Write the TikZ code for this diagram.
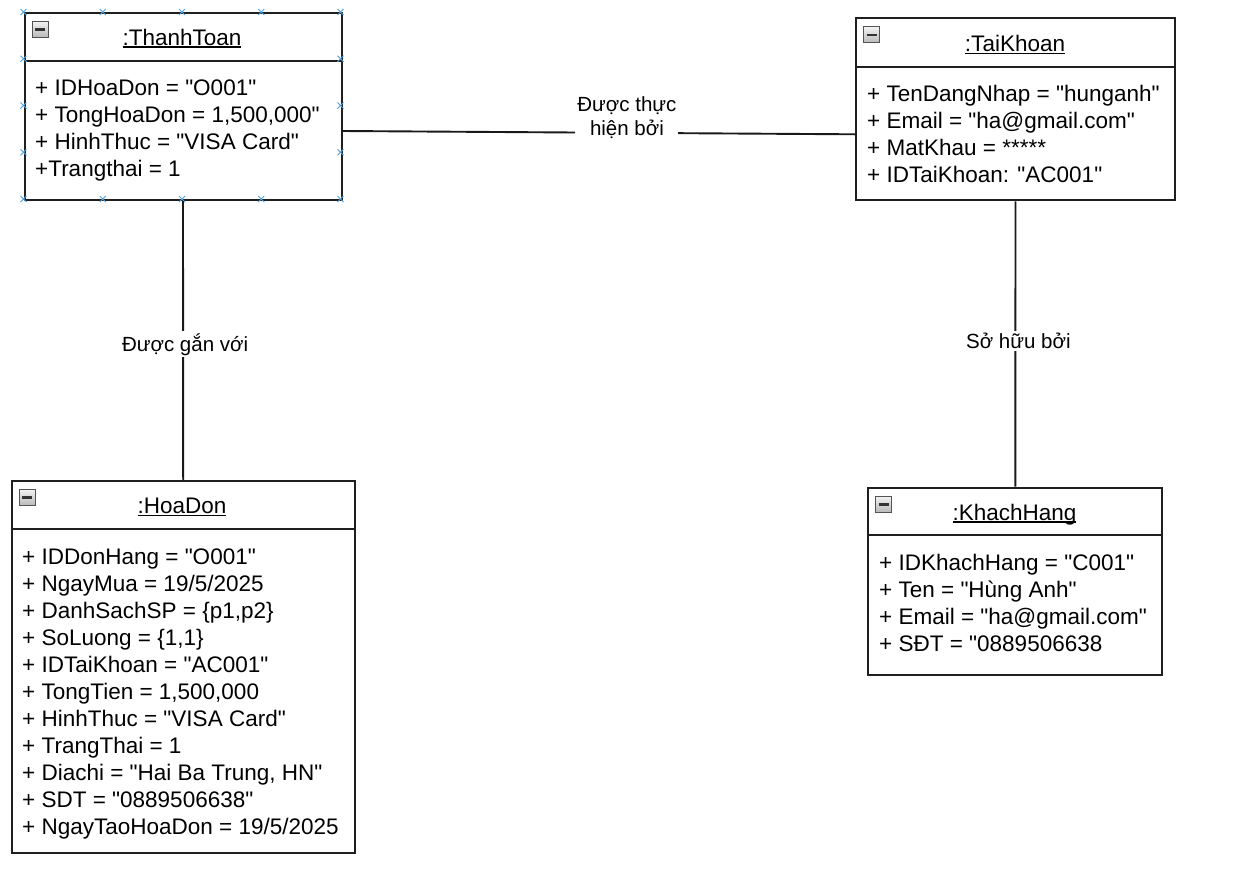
\documentclass[tikz,border=0pt]{standalone}
\usepackage{fontspec}
\setmainfont{Liberation Sans}[Ligatures=TeXOff]
\newcommand\myul[1]{\setbox0\hbox{#1}\rlap{\rule[-2.6pt]{\wd0}{1.3pt}}\box0}
\newcommand\boxicon[1]{%
  \shade[top color=gray!10, bottom color=gray!55, draw=gray!65!black, line width=1pt]
    ([shift={(8.5,9.5)}]#1.north west) rectangle ++(16,16);
  \draw[line width=2.6pt, black!80] ([shift={(11.5,17.5)}]#1.north west) -- ++(10,0);}
\begin{document}
\begin{tikzpicture}[x=1pt,y=-1pt]
\tikzset{
 objbox/.style={draw=black!88, line width=2pt, anchor=north west, inner sep=0pt},
 attr/.style={anchor=base west, inner sep=0pt, font=\fontsize{22.5}{27}\selectfont},
 ttl/.style={anchor=base, inner sep=0pt, font=\fontsize{22.5}{27}\selectfont},
 lbl/.style={fill=white, align=center, inner sep=2pt, font=\fontsize{20.5}{24}\selectfont},
 conn/.style={line width=1.9pt, draw=black!90},
 divl/.style={line width=2pt, draw=black!88},
 mk/.style={draw=cyan!70!blue!70, line width=1pt}
}
\useasboundingbox[fill=white] (0,0) rectangle (1240,868);

% boxes
\node[objbox, minimum width=317pt, minimum height=187pt] (tt) at (23.5,12) {};
\node[objbox, minimum width=319pt, minimum height=182pt] (tk) at (855,17.3) {};
\node[objbox, minimum width=343pt, minimum height=372pt] (hd) at (10.7,480) {};
\node[objbox, minimum width=294pt, minimum height=187pt] (kh) at (867.3,486.7) {};

% dividers
\draw[divl] (tt.west |- 0,61) -- (tt.east |- 0,61);
\draw[divl] (tk.west |- 0,66.5) -- (tk.east |- 0,66.5);
\draw[divl] (hd.west |- 0,529) -- (hd.east |- 0,529);
\draw[divl] (kh.west |- 0,535) -- (kh.east |- 0,535);

% icons
\boxicon{tt}
\boxicon{tk}
\boxicon{hd}
\boxicon{kh}

% titles
\node[ttl] (ttt) at (182,45) {\myul{:ThanhToan}};
\node[ttl] (tkt) at (1015,51.5) {\myul{:TaiKhoan}};
\node[ttl] (hdt) at (182,513.3) {\myul{:HoaDon}};
\node[ttl] (kht) at (1014.5,520) {\myul{:KhachHang}};

% attributes
\foreach \t [count=\i] in {{+ IDHoaDon = "O001"},{+ TongHoaDon = 1,500,000"},{+ HinhThuc = "VISA Card"},{+Trangthai = 1}}
  \node[attr] (tta\i) at (35,{95+27*(\i-1)}) {\t};
\foreach \t [count=\i] in {{+ TenDangNhap = "hunganh"},{+ Email = "ha@gmail.com"},{+ MatKhau = *****},{+ IDTaiKhoan: "AC001"}}
  \node[attr] (tka\i) at (867,{101.7+26.8*(\i-1)}) {\t};
\foreach \t [count=\i] in {{+ IDDonHang = "O001"},{+ NgayMua = 19/5/2025},{+ DanhSachSP = \{p1,p2\}},{+ SoLuong = \{1,1\}},{+ IDTaiKhoan = "AC001"},{+ TongTien = 1,500,000},{+ HinhThuc = "VISA Card"},{+ TrangThai = 1},{+ Diachi = "Hai Ba Trung, HN"},{+ SDT = "0889506638"},{+ NgayTaoHoaDon = 19/5/2025}}
  \node[attr] (hda\i) at (22,{564.3+27*(\i-1)}) {\t};
\foreach \t [count=\i] in {{+ IDKhachHang = "C001"},{+ Ten = "Hùng Anh"},{+ Email = "ha@gmail.com"},{+ SĐT = "0889506638}}
  \node[attr] (kha\i) at (879,{570.7+26.8*(\i-1)}) {\t};

% selection markers on ThanhToan
\foreach \xx in {23.5,102.75,182,261.25,340.5}
  \foreach \yy in {12,199}
    \draw[mk] (\xx-3,\yy-3) -- (\xx+3,\yy+3) (\xx-3,\yy+3) -- (\xx+3,\yy-3);
\foreach \xx in {23.5,340.5}
  \foreach \yy in {58.75,105.5,152.25}
    \draw[mk] (\xx-3,\yy-3) -- (\xx+3,\yy+3) (\xx-3,\yy+3) -- (\xx+3,\yy-3);

% connectors
\draw[conn] ([yshift=70pt]tt.south east) -- node[lbl, pos=0.555, yshift=15.7pt] (l1) {Được thực\\hiện bởi} ([yshift=67pt]tk.south west);
\draw[conn] (tt.south) -- node[lbl, pos=0.514, xshift=2pt] (l2) {Được gắn với} (hd.north);
\draw[conn] (tk.south) -- node[lbl, pos=0.49, xshift=3pt] (l3) {Sở hữu bởi} (kh.north);
\end{tikzpicture}
\end{document}
